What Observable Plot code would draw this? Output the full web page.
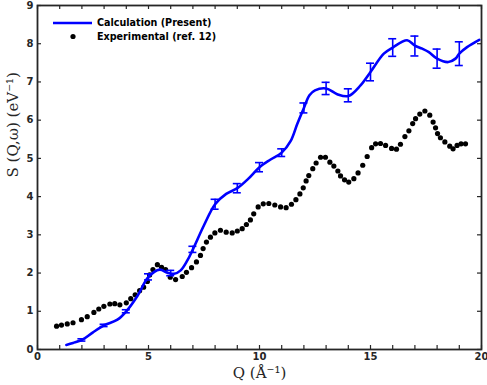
<!DOCTYPE html>
<html>
<head>
<meta charset="utf-8">
<script src="https://cdn.jsdelivr.net/npm/d3@7"></script>
<script src="https://cdn.jsdelivr.net/npm/@observablehq/plot@0.6"></script>
<style>
  html, body { margin: 0; padding: 0; background: #fff; }
  #chart { position: relative; width: 487px; height: 385px; }
</style>
</head>
<body>
<div id="chart"></div>
<script>
// Calculated dynamic structure factor (smooth curve)
const calcQ = [1.3, 1.6, 2, 2.5, 3, 3.6, 4, 4.5, 5, 5.5, 5.85, 6.15, 6.45, 6.75, 7, 7.5, 8, 8.5, 9, 9.5,
  10, 10.5, 11, 11.4, 11.7, 12, 12.25, 12.5, 13, 13.5, 14, 14.55, 15, 15.6, 16, 16.65, 17, 17.33, 17.63,
  18, 18.5, 18.83, 19, 19.35, 19.9];
const calcS = [0.12, 0.17, 0.25, 0.45, 0.63, 0.78, 1.0, 1.4, 1.9, 2.09, 2.01, 1.98, 2.07, 2.33, 2.62, 3.25, 3.8, 4.07, 4.22, 4.47,
  4.77, 4.97, 5.15, 5.45, 5.9, 6.32, 6.65, 6.78, 6.83, 6.68, 6.63, 6.91, 7.26, 7.74, 7.9, 8.09, 7.95, 7.87, 7.78,
  7.61, 7.52, 7.61, 7.74, 7.91, 8.1];

// Error bars on the calculation
const barQ = [2, 3, 4, 5, 6, 7, 8, 9, 10, 11, 12, 13, 14, 15, 16, 17, 18, 19];
const barS = [0.25, 0.63, 1.0, 1.9, 2.0, 2.62, 3.8, 4.22, 4.77, 5.15, 6.32, 6.83, 6.65, 7.26, 7.9, 7.94, 7.61, 7.74];
const barErr = [0.03, 0.03, 0.04, 0.08, 0.07, 0.08, 0.13, 0.12, 0.12, 0.1, 0.13, 0.16, 0.17, 0.23, 0.23, 0.26, 0.25, 0.31];

// Experimental data (ref. 12)
const expQ = [0.86, 1.08, 1.34, 1.6, 1.98, 2.24, 2.54, 2.76, 2.99, 3.26, 3.48, 3.71, 4.0, 4.2, 4.4, 4.6, 4.78, 4.95,
  5.05, 5.2, 5.4, 5.59, 5.77, 5.98, 6.22, 6.52, 6.71, 6.94, 7.16, 7.34, 7.46, 7.61, 7.79, 7.99, 8.24, 8.5, 8.77,
  9.0, 9.22, 9.41, 9.59, 9.74, 9.94, 10.17, 10.42, 10.69, 10.95, 11.2, 11.44, 11.64, 11.82, 11.97, 12.1, 12.22,
  12.4, 12.55, 12.75, 12.97, 13.17, 13.35, 13.53, 13.65, 13.83, 14.02, 14.25, 14.44, 14.65, 14.85, 15.05, 15.23,
  15.45, 15.68, 15.95, 16.17, 16.35, 16.55, 16.73, 16.9, 17.03, 17.22, 17.45, 17.67, 17.82, 17.93, 18.02, 18.15,
  18.35, 18.57, 18.72, 18.9, 19.08, 19.28];
const expS = [0.61, 0.64, 0.67, 0.70, 0.78, 0.86, 0.97, 1.06, 1.13, 1.19, 1.20, 1.17, 1.22, 1.33, 1.43, 1.54, 1.63, 1.78,
  1.95, 2.09, 2.22, 2.15, 2.09, 1.89, 1.83, 1.91, 2.02, 2.14, 2.29, 2.46, 2.64, 2.81, 2.94, 3.05, 3.12, 3.07, 3.05,
  3.1, 3.16, 3.27, 3.39, 3.55, 3.73, 3.81, 3.82, 3.78, 3.73, 3.71, 3.8, 3.92, 4.07, 4.23, 4.41, 4.55,
  4.73, 4.88, 5.03, 5.03, 4.9, 4.8, 4.67, 4.54, 4.44, 4.38, 4.47, 4.62, 4.82, 5.05, 5.28, 5.38,
  5.39, 5.34, 5.26, 5.24, 5.37, 5.57, 5.72, 5.91, 6.04, 6.16, 6.24, 6.13, 5.95, 5.8, 5.65, 5.54,
  5.43, 5.32, 5.25, 5.34, 5.38, 5.38];

// Axis ticks and labels
const xTicks = d3.range(0, 21);
const xTickLabels = [0, 5, 10, 15, 20];
const yTicks = d3.range(0, 10);
const xTitle = "Q (Å⁻¹)";
const yTitle = "S (Q,ω) (eV⁻¹)";
const legendLabels = ["Calculation (Present)", "Experimental (ref. 12)"];

const calc = calcQ.map((q, i) => ({q, s: calcS[i]}));
const bars = barQ.map((q, i) => ({q, s: barS[i], e: barErr[i]}));
const exp = expQ.map((q, i) => ({q, s: expS[i]}));

const W = 487, H = 385;
const mL = 37, mR = 6, mT = 5, mB = 36;
const frameW = W - mL - mR, frameH = H - mT - mB;
const tickLen = 4;
const capHalf = 4 / (frameW / 20); // error bar cap half-width, in Q units
const axisColor = "#262626";
const blue = "#0000ff";

const chart = Plot.plot({
  width: W,
  height: H,
  marginLeft: mL,
  marginRight: mR,
  marginTop: mT,
  marginBottom: mB,
  x: {domain: [0, 20]},
  y: {domain: [0, 9]},
  style: {fontFamily: "DejaVu Sans", fontSize: "10px", fontWeight: "bold", color: axisColor, background: "#fff", overflow: "visible"},
  marks: [
    Plot.dot(exp, {x: "q", y: "s", r: 2.6, fill: "#000", stroke: "none"}),
    Plot.line(calc, {x: "q", y: "s", stroke: blue, strokeWidth: 2.6, curve: "catmull-rom"}),
    Plot.ruleX(bars, {x: "q", y1: d => d.s - d.e, y2: d => d.s + d.e, stroke: blue, strokeWidth: 1.6}),
    Plot.ruleY(bars, {y: d => d.s - d.e, x1: d => d.q - capHalf, x2: d => d.q + capHalf, stroke: blue, strokeWidth: 1.6}),
    Plot.ruleY(bars, {y: d => d.s + d.e, x1: d => d.q - capHalf, x2: d => d.q + capHalf, stroke: blue, strokeWidth: 1.6}),
    // inward ticks on all four sides
    Plot.ruleX(xTicks, {x: d => d, insetTop: frameH - tickLen, stroke: axisColor, strokeWidth: 1.2}),
    Plot.ruleX(xTicks, {x: d => d, insetBottom: frameH - tickLen, stroke: axisColor, strokeWidth: 1.2}),
    Plot.ruleY(yTicks, {y: d => d, insetRight: frameW - tickLen, stroke: axisColor, strokeWidth: 1.2}),
    Plot.ruleY(yTicks, {y: d => d, insetLeft: frameW - tickLen, stroke: axisColor, strokeWidth: 1.2}),
    Plot.frame({stroke: axisColor, strokeWidth: 1.8}),
    Plot.axisX({ticks: xTickLabels, tickSize: 0, tickPadding: 3, label: null, fill: axisColor}),
    Plot.axisY({ticks: yTicks, tickSize: 0, tickPadding: 4, label: null, fill: axisColor}),
    Plot.text([xTitle], {frameAnchor: "bottom", dy: 24, fontFamily: "DejaVu Serif", fontSize: 15, fontWeight: "normal", fill: axisColor, lineAnchor: "middle"}),
    Plot.text([yTitle], {frameAnchor: "left", dx: -24, rotate: -90, fontFamily: "DejaVu Serif", fontSize: 15, fontWeight: "normal", fill: axisColor, lineAnchor: "middle"})
  ]
});

// Legend inside the plot area
const svg = d3.select(chart);
const lg = svg.append("g")
  .attr("font-family", "DejaVu Sans")
  .attr("font-weight", "bold")
  .attr("font-size", "9.6px")
  .attr("text-anchor", "start")
  .attr("fill", "#000");
lg.append("line").attr("x1", 53).attr("x2", 92).attr("y1", 23).attr("y2", 23).attr("stroke", blue).attr("stroke-width", 2.6);
lg.append("circle").attr("cx", 73).attr("cy", 36.5).attr("r", 2.6).attr("fill", "#000");
lg.selectAll("text").data(legendLabels).join("text")
  .attr("x", 97).attr("y", (d, i) => 23 + i * 13.5).attr("dy", "0.35em").text(d => d);

document.getElementById("chart").appendChild(chart);
</script>
</body>
</html>
